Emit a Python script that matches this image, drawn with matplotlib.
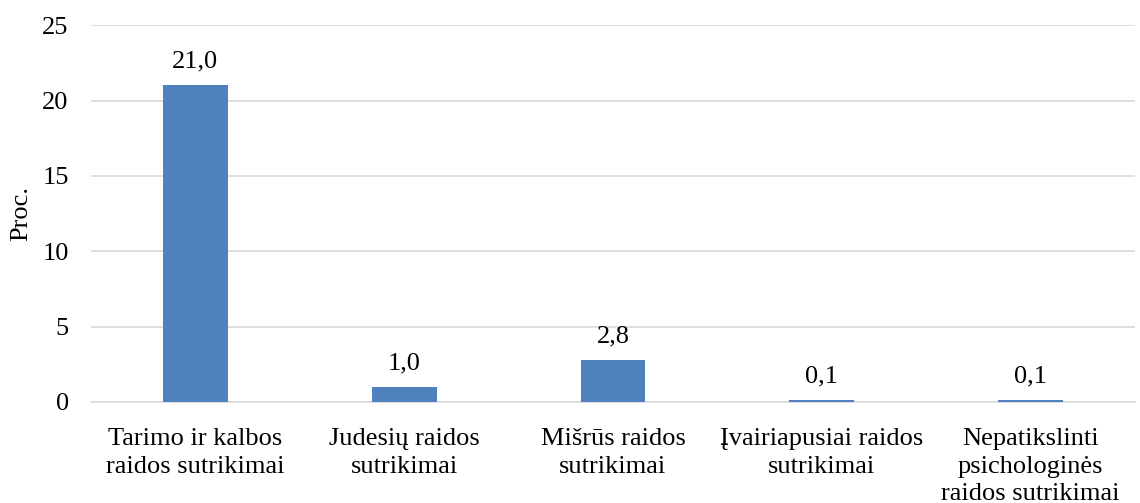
import matplotlib.pyplot as plt
import numpy as np

plt.rcParams['font.family'] = ['Liberation Serif', 'DejaVu Serif']

kategorijos = ['Tarimo ir kalbos\nraidos sutrikimai',
               'Judesių raidos\nsutrikimai',
               'Mišrūs raidos\nsutrikimai',
               'Įvairiapusiai raidos\nsutrikimai',
               'Nepatikslinti\npsichologinės\nraidos sutrikimai']
reiksmes = [21.0, 1.0, 2.8, 0.1, 0.1]
etiketes = ['21,0', '1,0', '2,8', '0,1', '0,1']

fig = plt.figure(figsize=(11.4, 5.03), dpi=100)
ax = fig.add_axes([0.0798, 0.2008, 0.9158, 0.7492])

x = np.arange(len(kategorijos))
ax.bar(x, reiksmes, width=0.31, color='#4F81BD', zorder=3)

for xi, v, t in zip(x, reiksmes, etiketes):
    ax.text(xi, v + 0.85, t, ha='center', va='bottom', fontsize=19)

ax.set_xlim(-0.5, len(kategorijos) - 0.5)
ax.set_ylim(0, 25)
ax.set_yticks(range(0, 26, 5))
ax.set_xticks(x)
ax.set_xticklabels(kategorijos, fontsize=19, va='top', linespacing=1.32)
ax.tick_params(axis='y', labelsize=19, length=0, pad=16)
ax.tick_params(axis='x', length=0, pad=19)
ax.grid(axis='y', color='#D9D9D9', linewidth=1.2, zorder=0)
for s in ['top', 'right', 'left']:
    ax.spines[s].set_visible(False)
ax.spines['bottom'].set_color('#D9D9D9')
ax.spines['bottom'].set_linewidth(1.2)
ax.set_ylabel('Proc.', fontsize=19, labelpad=7)

plt.savefig('out.png', dpi=100)
